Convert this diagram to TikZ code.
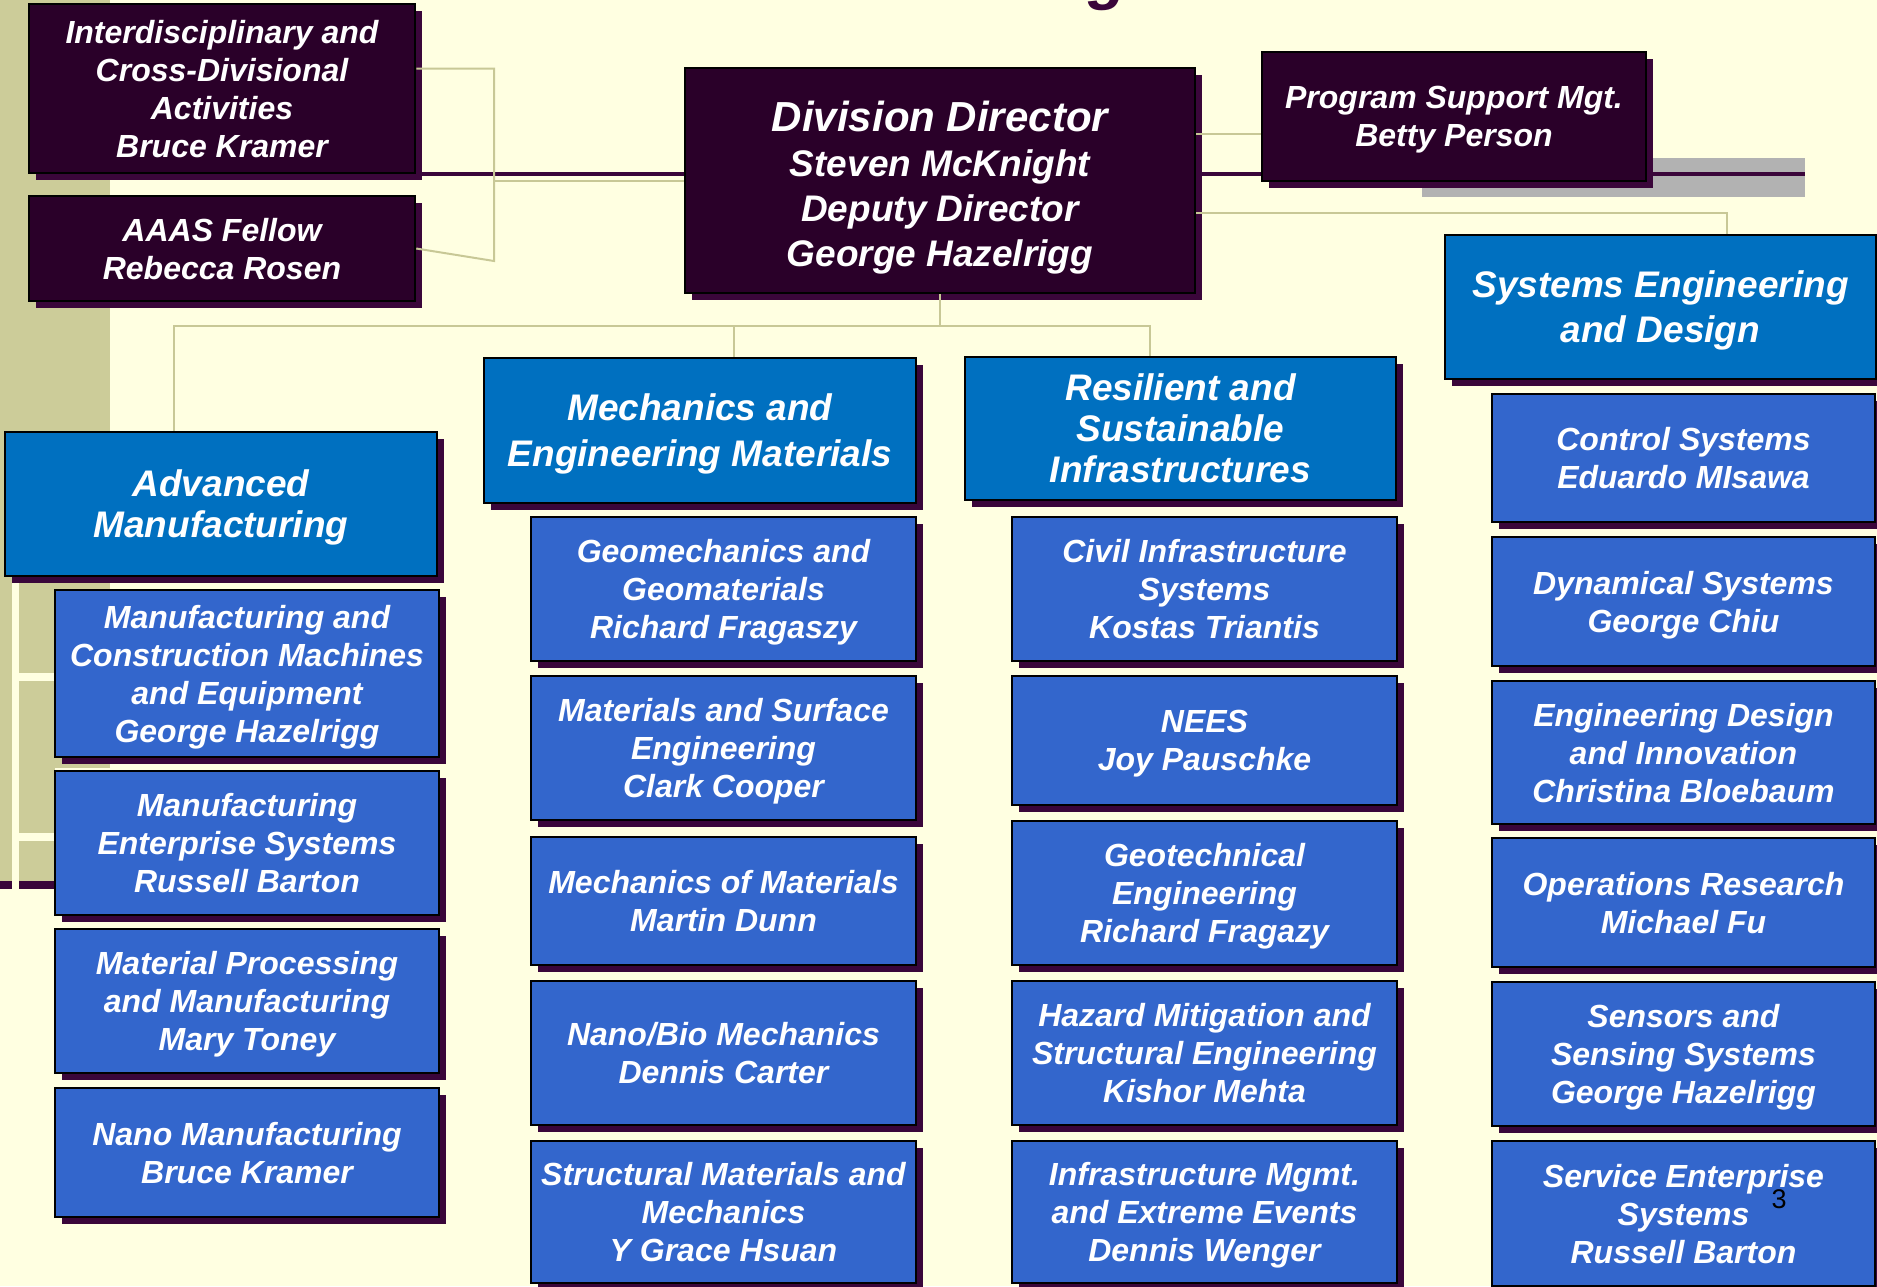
\documentclass[tikz,border=0pt]{standalone}
\usepackage{fontspec}
\setmainfont{Liberation Sans}
\usetikzlibrary{calc, shadows}

\definecolor{cream}{HTML}{FFFFE1}
\definecolor{khaki}{HTML}{CCCC99}
\definecolor{linkc}{HTML}{C8C896}
\definecolor{plum}{HTML}{2A0029}
\definecolor{plumshade}{HTML}{3A063A}
\definecolor{headblue}{HTML}{0070C0}
\definecolor{subblue}{HTML}{3366CC}
\definecolor{bargray}{HTML}{B2B2B2}

\tikzset{
  box/.style={draw=black, line width=2.5pt, text=white, align=center, inner sep=0pt,
    text depth=-2.7pt,
    drop shadow={shadow xshift=7pt, shadow yshift=-7pt, fill=plumshade, opacity=1}},
  dims/.style 2 args={minimum width=#1pt, minimum height=#2pt},
  darkbox/.style={box, fill=plum, font=\bfseries\itshape\fontsize{32}{38}\selectfont},
  headbox/.style={box, fill=headblue, text depth=0.5pt, font=\bfseries\itshape\fontsize{37}{#1}\selectfont},
  headbox/.default=43,
  subbox/.style={box, fill=subblue, font=\bfseries\itshape\fontsize{32}{38}\selectfont},
  link/.style={draw=linkc, line width=2pt}
}

\begin{document}
\begin{tikzpicture}[x=1pt,y=-1pt]
\useasboundingbox (0,0) rectangle (1877,1286);
% Draw background
\fill[cream] (0,0) rectangle (1877,1286);
\fill[khaki] (0,0) rectangle (110,768);
\fill[khaki] (0,768) rectangle (55,885);
\fill[plumshade] (0,881) rectangle (55,889);
\fill[cream] (12,580) rectangle (19,900);
\fill[cream] (19,673) rectangle (55,681);
\fill[cream] (19,833) rectangle (55,841);
\fill[bargray] (1422,158) rectangle (1805,197);
\draw[plumshade, line width=4pt] (300,174) -- (1805,174);
% Title remnant
\node[font=\bfseries\itshape\fontsize{64}{70}\selectfont, text=plumshade, anchor=base] (titleg) at (1108,-3) {g};

% Draw director and staff boxes
\node[darkbox, dims={386}{169}] (inter) at (222,88.5) {Interdisciplinary and\\Cross-Divisional\\Activities\\Bruce Kramer};
\node[darkbox, dims={386}{105}] (aaas) at (222,248.5) {AAAS Fellow\\Rebecca Rosen};
\node[darkbox, dims={510}{225}, text depth=8pt, font=\bfseries\itshape\fontsize{37}{45}\selectfont] (director) at (940,180.5)
  {{\fontsize{42}{45}\selectfont\rule{0pt}{45pt}Division Director}\\Steven McKnight\\Deputy Director\\George Hazelrigg};
\node[darkbox, dims={384}{129}] (progsup) at (1454,116.5) {Program Support Mgt.\\Betty Person};

% Draw cluster headers
\node[headbox=41, dims={432}{144}] (advman) at (221,504) {Advanced\\Manufacturing};
\node[headbox=46, dims={432}{145}] (mechmat) at (700,430.5) {Mechanics and\\Engineering Materials};
\node[headbox=41, dims={431}{143}] (resil) at (1180.5,428.5) {Resilient and\\Sustainable\\Infrastructures};
\node[headbox=45, dims={431}{144}] (syseng) at (1660.5,307) {Systems Engineering\\and Design};

% Advanced Manufacturing programs
\node[subbox, dims={384}{167}] (mcme) at (247,673.5) {Manufacturing and\\Construction Machines\\and Equipment\\George Hazelrigg};
\node[subbox, dims={384}{144}] (mes) at (247,843) {Manufacturing\\Enterprise Systems\\Russell Barton};
\node[subbox, dims={384}{144}] (mpm) at (247,1001) {Material Processing\\and Manufacturing\\Mary Toney};
\node[subbox, dims={384}{129}] (nanoman) at (247,1152.5) {Nano Manufacturing\\Bruce Kramer};

% Mechanics and Engineering Materials programs
\node[subbox, dims={385}{144}] (geomech) at (723.5,589) {Geomechanics and\\Geomaterials\\Richard Fragaszy};
\node[subbox, dims={385}{144}] (matsurf) at (723.5,748) {Materials and Surface\\Engineering\\Clark Cooper};
\node[subbox, dims={385}{128}] (mechofmat) at (723.5,901) {Mechanics of Materials\\Martin Dunn};
\node[subbox, dims={385}{144}] (nanobio) at (723.5,1053) {Nano/Bio Mechanics\\Dennis Carter};
\node[subbox, dims={385}{142}] (structmat) at (723.5,1212) {Structural Materials and\\Mechanics\\Y Grace Hsuan};

% Resilient and Sustainable Infrastructures programs
\node[subbox, dims={385}{144}] (civil) at (1204.5,589) {Civil Infrastructure\\Systems\\Kostas Triantis};
\node[subbox, dims={385}{129}] (nees) at (1204.5,740.5) {NEES\\Joy Pauschke};
\node[subbox, dims={385}{144}] (geotech) at (1204.5,893) {Geotechnical\\Engineering\\Richard Fragazy};
\node[subbox, dims={385}{144}] (hazard) at (1204.5,1053) {Hazard Mitigation and\\Structural Engineering\\Kishor Mehta};
\node[subbox, dims={385}{142}] (infra) at (1204.5,1212) {Infrastructure Mgmt.\\and Extreme Events\\Dennis Wenger};

% Systems Engineering and Design programs
\node[subbox, dims={383}{128}] (control) at (1683.5,458) {Control Systems\\Eduardo MIsawa};
\node[subbox, dims={383}{129}] (dynsys) at (1683.5,601.5) {Dynamical Systems\\George Chiu};
\node[subbox, dims={383}{143}] (engdes) at (1683.5,752.5) {Engineering Design\\and Innovation\\Christina Bloebaum};
\node[subbox, dims={383}{129}] (opsres) at (1683.5,902.5) {Operations Research\\Michael Fu};
\node[subbox, dims={383}{144}] (sensors) at (1683.5,1054) {Sensors and\\Sensing Systems\\George Hazelrigg};
\node[subbox, dims={383}{145}] (service) at (1683.5,1213.5) {Service Enterprise\\Systems\\Russell Barton};

% Page number
\node[font=\fontsize{27}{30}\selectfont] (pagenum) at (1779,1199) {3};

% Staff bracket
\coordinate (brk) at (494,261);
\draw[link] ([yshift=20pt]inter.east) -| (brk) -- (aaas.east);
\draw[link] (director.west) -- (director.west -| brk);
% Director to program support and systems
\coordinate (dd-ps) at ([yshift=47pt]director.east);
\draw[link] (dd-ps) -- (dd-ps -| progsup.west);
\coordinate (dd-se) at ([yshift=-32pt]director.east);
\draw[link] (dd-se) -| ([xshift=66pt]syseng.north);
% Director to clusters
\draw[link] (director.south) -- ++(0,32) coordinate (bus);
\draw[link] ([xshift=-47pt]advman.north) |- (bus) -| ([xshift=-31pt]resil.north);
\draw[link] ([xshift=34pt]mechmat.north) -- ([xshift=34pt]mechmat.north |- bus);
\end{tikzpicture}
\end{document}
